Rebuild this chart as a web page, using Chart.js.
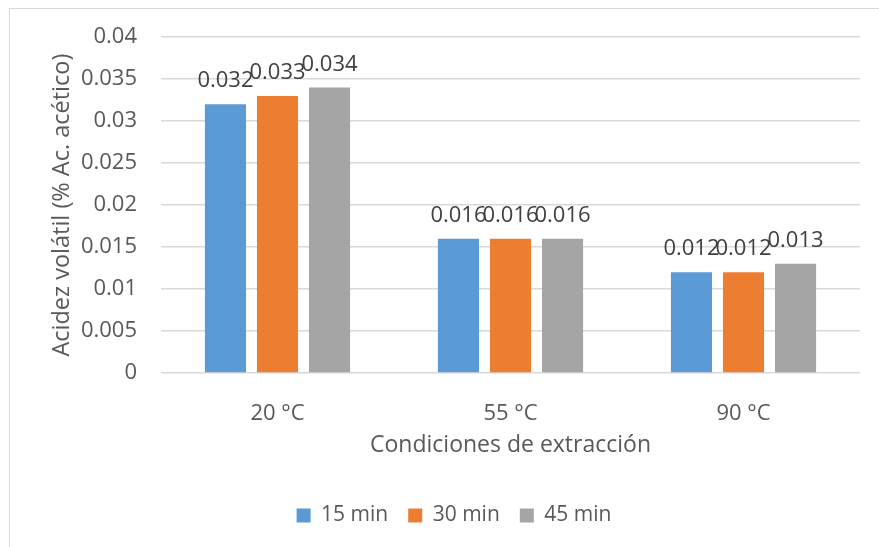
<!DOCTYPE html>
<html>
<head>
<meta charset="utf-8">
<script src="https://cdn.jsdelivr.net/npm/chart.js@4.4.1/dist/chart.umd.min.js"></script>
<style>
  html, body { margin: 0; padding: 0; background: #fff; overflow: hidden; }
  #wrap { position: relative; width: 879px; height: 547px; }
  #frame { position: absolute; left: 9px; top: 8px; width: 900px; height: 600px; border: 1.5px solid #d9d9d9; box-sizing: border-box; }
  canvas { position: absolute; left: 0; top: 0; }
</style>
</head>
<body>
<div id="wrap">
  <div id="frame"></div>
  <canvas id="chart" width="879" height="547"></canvas>
</div>
<script>
  'use strict';

  // Data
  const categories = ['20 °C', '55 °C', '90 °C'];
  const seriesNames = ['15 min', '30 min', '45 min'];
  const values15 = [0.032, 0.016, 0.012];
  const values30 = [0.033, 0.016, 0.012];
  const values45 = [0.034, 0.016, 0.013];
  const colors = ['#5B9BD5', '#ED7D31', '#A5A5A5'];

  const yTitle = 'Acidez volátil (% Ac. acético)';
  const xTitle = 'Condiciones de extracción';

  const FONT = "'Open Sans', 'Liberation Sans', sans-serif";
  const TEXT = '#595959';

  // simple value labels above each bar
  const barLabels = {
    id: 'barLabels',
    afterDatasetsDraw(chart) {
      const ctx = chart.ctx;
      ctx.save();
      ctx.font = '22px ' + FONT;
      ctx.fillStyle = '#404040';
      ctx.textAlign = 'center';
      ctx.textBaseline = 'alphabetic';
      chart.data.datasets.forEach((ds, i) => {
        const meta = chart.getDatasetMeta(i);
        meta.data.forEach((bar, j) => {
          ctx.fillText(String(ds.data[j]), bar.x, bar.y - 17);
        });
      });
      ctx.restore();
    }
  };

  const allSeries = [values15, values30, values45];
  const datasets = allSeries.map((vals, i) => ({
    label: seriesNames[i],
    data: vals,
    backgroundColor: colors[i],
    borderWidth: 0,
    categoryPercentage: 0.67,
    barPercentage: 0.79
  }));

  new Chart(document.getElementById('chart'), {
    type: 'bar',
    data: { labels: categories, datasets },
    plugins: [barLabels],
    options: {
      responsive: false,
      animation: false,
      layout: { padding: { left: 48, right: 19, top: 37, bottom: 11 } },
      plugins: {
        tooltip: { enabled: false },
        legend: {
          position: 'bottom',
          labels: {
            color: TEXT,
            font: { family: FONT, size: 21 },
            boxWidth: 14,
            boxHeight: 14,
            padding: 20
          }
        }
      },
      scales: {
        x: {
          grid: { display: false },
          border: { display: false },
          ticks: { color: TEXT, font: { family: FONT, size: 22 }, padding: 20 },
          title: {
            display: true,
            text: xTitle,
            color: TEXT,
            font: { family: FONT, size: 23 },
            padding: { top: 0, bottom: 26 }
          },
          afterFit(scale) { scale.height = 112; }
        },
        y: {
          min: 0,
          max: 0.04,
          ticks: {
            stepSize: 0.005,
            color: TEXT,
            font: { family: FONT, size: 22 },
            padding: 24,
            callback: v => String(+v.toFixed(3))
          },
          grid: { color: '#d9d9d9', lineWidth: 1.5, drawTicks: false },
          border: { display: false },
          title: {
            display: true,
            text: yTitle,
            color: TEXT,
            font: { family: FONT, size: 23.5 },
            padding: { top: 0, bottom: 0 }
          },
          afterFit(scale) { scale.width = 113; }
        }
      }
    }
  });
</script>
</body>
</html>
